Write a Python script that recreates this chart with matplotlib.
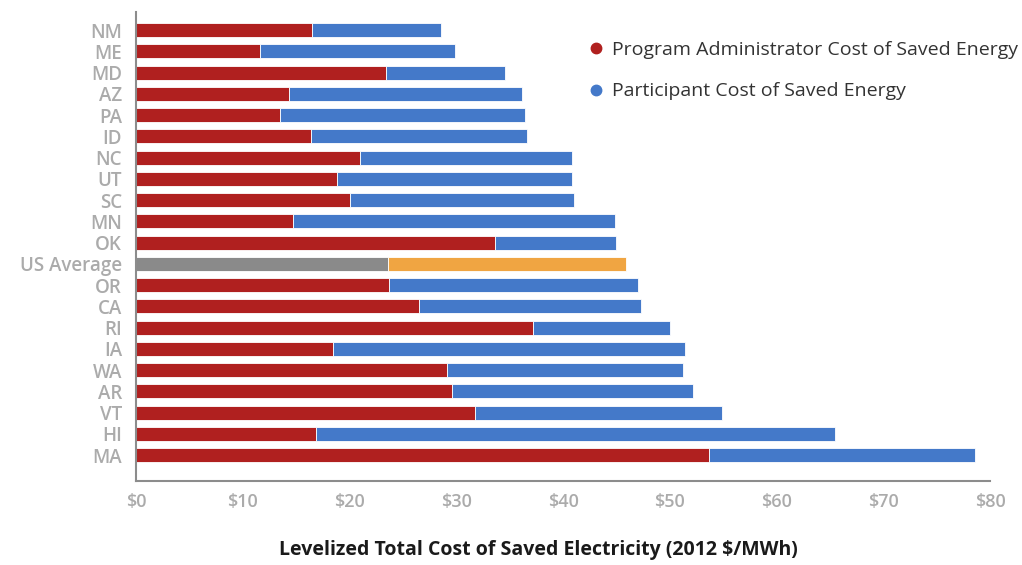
import matplotlib
matplotlib.use("Agg")
import matplotlib.pyplot as plt
from matplotlib.lines import Line2D

states = ["NM", "ME", "MD", "AZ", "PA", "ID", "NC", "UT", "SC", "MN", "OK",
          "US Average", "OR", "CA", "RI", "IA", "WA", "AR", "VT", "HI", "MA"]
admin_cost = [16.5, 11.6, 23.4, 14.3, 13.5, 16.4, 21.0, 18.8, 20.0, 14.7, 33.6,
              23.6, 23.7, 26.5, 37.2, 18.5, 29.1, 29.6, 31.8, 16.9, 53.7]
total_cost = [28.6, 29.9, 34.6, 36.2, 36.4, 36.6, 40.8, 40.8, 41.0, 44.9, 45.0,
              45.9, 47.0, 47.3, 50.0, 51.4, 51.2, 52.2, 54.9, 65.5, 78.6]
participant_cost = [t - a for t, a in zip(total_cost, admin_cost)]
xticks = [0, 10, 20, 30, 40, 50, 60, 70, 80]
xtick_labels = ["$0", "$10", "$20", "$30", "$40", "$50", "$60", "$70", "$80"]

RED = "#B0201F"
BLUE = "#4479C9"
GRAY = "#8A8A8A"
ORANGE = "#F0A542"

plt.rcParams['font.family'] = ['Open Sans', 'DejaVu Sans']

fig = plt.figure(figsize=(10.22, 5.65), dpi=100)
ax = fig.add_axes([136/1022, 1 - 481/565, (990-136)/1022, (481-12)/565])

ypos = list(range(len(states)))
c1 = [GRAY if s == "US Average" else RED for s in states]
c2 = [ORANGE if s == "US Average" else BLUE for s in states]
ax.barh(ypos, admin_cost, height=0.66, color=c1, edgecolor="white", linewidth=0.6)
ax.barh(ypos, participant_cost, left=admin_cost, height=0.66, color=c2,
        edgecolor="white", linewidth=0.6)

ax.set_ylim(len(states) - 1 + 1.22, -0.85)
ax.set_xlim(0, 80)
ax.set_yticks(ypos)
ax.set_yticklabels(states, fontsize=13.5, color="#ABABAB", fontweight="semibold")
ax.set_xticks(xticks)
ax.set_xticklabels(xtick_labels, fontsize=13, color="#ABABAB", fontweight="semibold")
ax.tick_params(axis="both", length=0)
ax.tick_params(axis="y", pad=10)
ax.tick_params(axis="x", pad=9)
for s in ["top", "right"]:
    ax.spines[s].set_visible(False)
for s in ["left", "bottom"]:
    ax.spines[s].set_color("#8C8C8C")
    ax.spines[s].set_linewidth(1.5)

ax.set_xlabel("Levelized Total Cost of Saved Electricity (2012 $/MWh)",
              fontsize=14, fontweight="bold", color="#1A1A1A")
ax.xaxis.set_label_coords((538 - 136) / 854, -(550 - 481) / 469)
ax.xaxis.label.set_verticalalignment("center")

handles = [Line2D([], [], marker="o", linestyle="", color=RED, markersize=7.5),
           Line2D([], [], marker="o", linestyle="", color=BLUE, markersize=7.5)]
leg = fig.legend(handles, ["Program Administrator Cost of Saved Energy",
                           "Participant Cost of Saved Energy"],
                 loc="upper left", bbox_to_anchor=(587/1022, 1 - 41/565), frameon=False,
                 fontsize=14, labelspacing=1.2, handletextpad=0.4,
                 handlelength=0.9, borderaxespad=0.0, borderpad=0.0)
for t in leg.get_texts():
    t.set_color("#333333")

fig.savefig("out.png", dpi=100, facecolor="white")
